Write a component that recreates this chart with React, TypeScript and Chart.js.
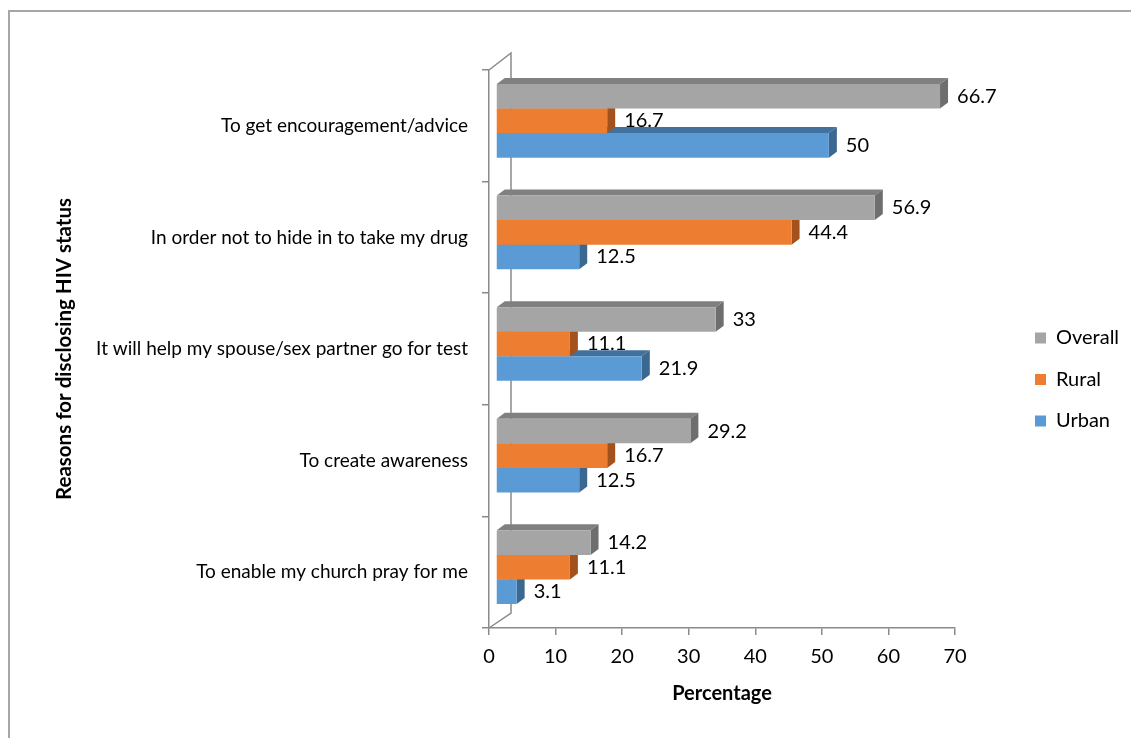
import React, { useEffect, useRef } from "react";
import { Chart, registerables } from "chart.js";

Chart.register(...registerables);

const categories = [
  "To get encouragement/advice",
  "In order not to hide in to take my drug",
  "It will help my spouse/sex partner go for test",
  "To create awareness",
  "To enable my church pray for me",
];
const overallValues = [66.7, 56.9, 33, 29.2, 14.2];
const ruralValues = [16.7, 44.4, 11.1, 16.7, 11.1];
const urbanValues = [50, 12.5, 21.9, 12.5, 3.1];
const xTicks = [0, 10, 20, 30, 40, 50, 60, 70];

const FONT = "Lato";
const FS = 20;
const CAT_FS = 19;
const FRONT_DX = 7;
const FRONT_DY = -5;
const DEPTH_DX = 8;
const DEPTH_DY = -6;
const AXIS_COLOR = "#8a8a8a";

const faceColors = [
  { top: "#808080", side: "#6e6e6e" },
  { top: "#b25d22", side: "#a3521d" },
  { top: "#41719c", side: "#3b6890" },
];

const wallPlugin = {
  id: "wall",
  beforeDatasetsDraw(chart: any) {
    const { ctx, chartArea } = chart;
    const { left, top, bottom } = chartArea;
    ctx.save();
    ctx.strokeStyle = AXIS_COLOR;
    ctx.lineWidth = 1.5;
    ctx.beginPath();
    ctx.moveTo(left, top);
    ctx.lineTo(left + 22, top - 17);
    ctx.lineTo(left + 22, bottom - 15);
    ctx.lineTo(left, bottom);
    ctx.stroke();
    ctx.restore();
  },
};

const bar3dPlugin = {
  id: "bar3d",
  beforeDatasetDraw(chart: any, args: any) {
    const { ctx } = chart;
    const idx = args.index;
    const meta = args.meta;
    const colors = faceColors[idx];
    ctx.save();
    ctx.translate(FRONT_DX, FRONT_DY);
    meta.data.forEach((el: any) => {
      const { x, y, base, height } = el.getProps(["x", "y", "base", "height"], true);
      const t = y - height / 2;
      const b = y + height / 2;
      ctx.fillStyle = colors.top;
      ctx.beginPath();
      ctx.moveTo(base, t);
      ctx.lineTo(base + DEPTH_DX, t + DEPTH_DY);
      ctx.lineTo(x + DEPTH_DX, t + DEPTH_DY);
      ctx.lineTo(x, t);
      ctx.closePath();
      ctx.fill();
      ctx.fillStyle = colors.side;
      ctx.beginPath();
      ctx.moveTo(x, t);
      ctx.lineTo(x + DEPTH_DX, t + DEPTH_DY);
      ctx.lineTo(x + DEPTH_DX, b + DEPTH_DY);
      ctx.lineTo(x, b);
      ctx.closePath();
      ctx.fill();
    });
  },
  afterDatasetDraw(chart: any) {
    chart.ctx.restore();
  },
  afterDatasetsDraw(chart: any) {
    const { ctx } = chart;
    ctx.save();
    ctx.font = `${FS}px ${FONT}`;
    ctx.fillStyle = "#000";
    ctx.textAlign = "left";
    ctx.textBaseline = "middle";
    chart.data.datasets.forEach((ds: any, i: number) => {
      const meta = chart.getDatasetMeta(i);
      meta.data.forEach((el: any, j: number) => {
        const { x, y } = el.getProps(["x", "y"], true);
        ctx.fillText(String(ds.data[j]), x + FRONT_DX + DEPTH_DX + 9, y + FRONT_DY);
      });
    });
    ctx.restore();
  },
};

const LEGEND_W = 1131 - 955;
const LEGEND_PAD = 21.5;

const layoutPlugin = {
  id: "fixLayout",
  beforeLayout(chart: any) {
    const lg = chart.legend;
    if (lg && !lg._patched) {
      const orig = lg.fit;
      lg.fit = function () {
        orig.call(this);
        this.width = LEGEND_W;
      };
      lg._patched = true;
    }
  },
  afterLayout(chart: any) {
    const lg = chart.legend;
    if (!lg) return;
    lg.left = 1035 - LEGEND_PAD;
    lg.right = 1131;
    lg.top = 338 - LEGEND_PAD - FS / 2;
    lg.bottom = 738;
    lg.width = lg.right - lg.left;
    lg.height = lg.bottom - lg.top;
  },
};

export default function App() {
  const ref = useRef<HTMLCanvasElement>(null);
  useEffect(() => {
    const chart = new Chart(ref.current as HTMLCanvasElement, {
      type: "bar",
      data: {
        labels: categories,
        datasets: [
          { label: "Overall", data: overallValues, backgroundColor: "#A5A5A5", clip: false as any },
          { label: "Rural", data: ruralValues, backgroundColor: "#ED7D31", clip: false as any },
          { label: "Urban", data: urbanValues, backgroundColor: "#5B9BD5", clip: false as any },
        ],
      },
      options: {
        indexAxis: "y",
        responsive: false,
        animation: false,
        events: [],
        datasets: { bar: { categoryPercentage: 0.66, barPercentage: 1 } },
        layout: { padding: { left: 48, top: 70, bottom: 28, right: 0 } },
        scales: {
          x: {
            type: "linear",
            min: 0,
            max: 70,
            afterBuildTicks: (scale: any) => {
              scale.ticks = xTicks.map((v) => ({ value: v }));
            },
            afterFit: (scale: any) => {
              scale.height = 82;
            },
            border: { display: true, color: AXIS_COLOR, width: 1.5 },
            grid: { display: true, drawOnChartArea: false, drawTicks: true, tickLength: 7, color: AXIS_COLOR, lineWidth: 1.5 },
            ticks: { color: "#000", font: { family: FONT, size: FS }, padding: 10 },
            title: { display: true, text: "Percentage", color: "#000", font: { family: FONT, size: 20, weight: "bold" }, padding: { top: 4, bottom: 4 } },
          },
          y: {
            type: "category",
            afterFit: (scale: any) => {
              scale.width = 489 - 48;
            },
            border: { display: true, color: AXIS_COLOR, width: 1.5 },
            grid: { display: true, offset: true, drawOnChartArea: false, drawTicks: true, tickLength: 7, color: AXIS_COLOR, lineWidth: 1.5 },
            ticks: { color: "#000", font: { family: FONT, size: CAT_FS }, padding: 14 },
            title: { display: true, text: "Reasons for disclosing HIV status", color: "#000", font: { family: FONT, size: 20.5, weight: "bold" }, padding: { top: 4, bottom: 4 } },
          },
        },
        plugins: {
          legend: {
            display: true,
            position: "right",
            align: "start",
            labels: {
              boxWidth: 11,
              boxHeight: 11,
              padding: LEGEND_PAD,
              color: "#000",
              font: { family: FONT, size: FS },
            },
          },
          tooltip: { enabled: false },
        },
      } as any,
      plugins: [layoutPlugin, wallPlugin, bar3dPlugin],
    });
    return () => chart.destroy();
  }, []);

  return (
    <div style={{ position: "absolute", left: 0, top: 0, width: 1131, height: 738, overflow: "hidden", background: "#fff" }}>
      <div
        style={{
          position: "absolute",
          left: 8,
          top: 10,
          width: 1200,
          height: 800,
          borderTop: "2px solid #a6a6a6",
          borderLeft: "2px solid #a6a6a6",
        }}
      />
      <canvas ref={ref} width={1131} height={738} style={{ position: "absolute", left: 0, top: 0 }} />
    </div>
  );
}
